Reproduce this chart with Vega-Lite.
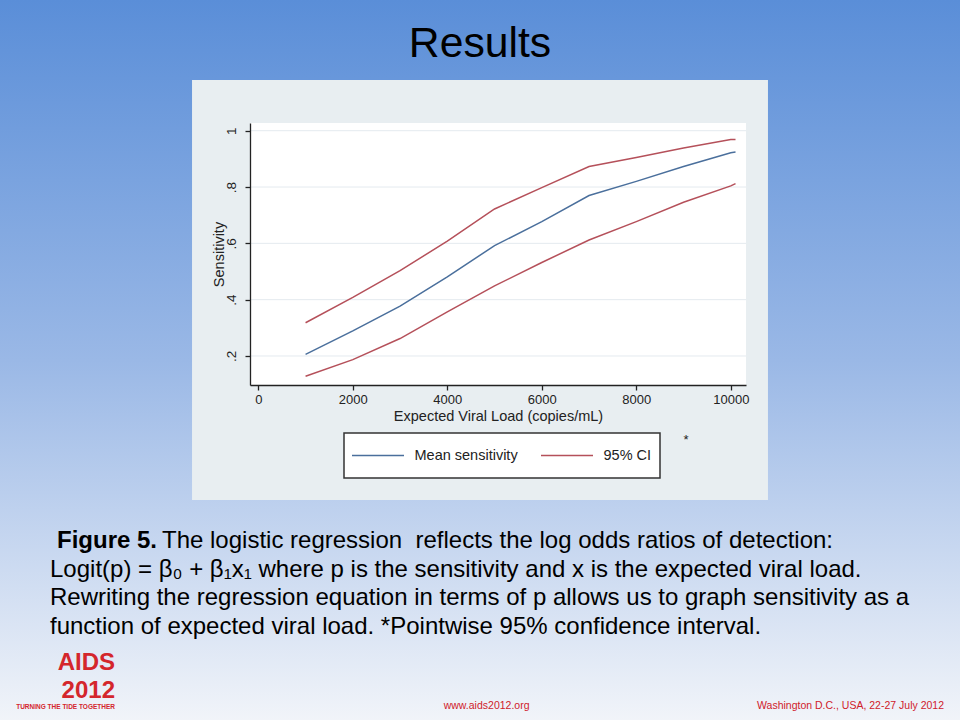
{
  "$schema": "https://vega.github.io/schema/vega-lite/v6.json",
  "width": 960,
  "height": 720,
  "autosize": {"type": "none"},
  "padding": 0,
  "background": "#9ab8e6",
  "config": {
    "font": "Liberation Sans",
    "view": {
      "stroke": null,
      "fill": {
        "gradient": "linear", "x1": 0, "y1": 0, "x2": 0, "y2": 1,
        "stops": [
          {"offset": 0, "color": "#5a8ed8"},
          {"offset": 0.5, "color": "#9ab8e6"},
          {"offset": 1, "color": "#f1f4f9"}
        ]
      }
    },
    "legend": {"strokeWidth": 1.5}
  },
  "title": {
    "text": "Results",
    "fontSize": 42.7,
    "fontWeight": "normal",
    "color": "#000000",
    "anchor": "middle",
    "frame": "group",
    "baseline": "alphabetic",
    "offset": -100
  },
  "resolve": {"scale": {"x": "independent", "y": "independent"}},
  "layer": [
    {
      "layer": [
        {
          "data": {"values": [{"part": "chart box"}]},
          "mark": {"type": "rect", "fill": "#e8eef1"},
          "encoding": {
            "x": {"datum": -1403, "type": "quantitative"},
            "x2": {"datum": 10787},
            "y": {"datum": 1.1801, "type": "quantitative"},
            "y2": {"datum": -0.3114}
          }
        },
        {
          "data": {"values": [{"part": "plot region"}]},
          "mark": {"type": "rect", "fill": "#ffffff"},
          "encoding": {
            "x": {"datum": -176, "type": "quantitative"},
            "x2": {"datum": 10322},
            "y": {"datum": 1.0274, "type": "quantitative"},
            "y2": {"datum": 0.097}
          }
        },
        {
          "data": {"values": [{"tick": 0.2}, {"tick": 0.4}, {"tick": 0.6}, {"tick": 0.8}, {"tick": 1.0}]},
          "mark": {"type": "rule", "stroke": "#e4eaef", "strokeWidth": 1},
          "encoding": {
            "y": {"field": "tick", "type": "quantitative"},
            "x": {"datum": -176, "type": "quantitative"},
            "x2": {"datum": 10322}
          }
        },
        {
          "data": {
            "values": [
              {"load": 1000, "sensitivity": 0.206, "series": "Mean sensitivity", "band": "mean"},
              {"load": 2000, "sensitivity": 0.289, "series": "Mean sensitivity", "band": "mean"},
              {"load": 3000, "sensitivity": 0.377, "series": "Mean sensitivity", "band": "mean"},
              {"load": 4000, "sensitivity": 0.481, "series": "Mean sensitivity", "band": "mean"},
              {"load": 5000, "sensitivity": 0.592, "series": "Mean sensitivity", "band": "mean"},
              {"load": 6000, "sensitivity": 0.677, "series": "Mean sensitivity", "band": "mean"},
              {"load": 7000, "sensitivity": 0.770, "series": "Mean sensitivity", "band": "mean"},
              {"load": 8000, "sensitivity": 0.820, "series": "Mean sensitivity", "band": "mean"},
              {"load": 9000, "sensitivity": 0.873, "series": "Mean sensitivity", "band": "mean"},
              {"load": 10000, "sensitivity": 0.922, "series": "Mean sensitivity", "band": "mean"},
              {"load": 10100, "sensitivity": 0.924, "series": "Mean sensitivity", "band": "mean"},
              {"load": 1000, "sensitivity": 0.318, "series": "95% CI", "band": "upper"},
              {"load": 2000, "sensitivity": 0.408, "series": "95% CI", "band": "upper"},
              {"load": 3000, "sensitivity": 0.503, "series": "95% CI", "band": "upper"},
              {"load": 4000, "sensitivity": 0.608, "series": "95% CI", "band": "upper"},
              {"load": 5000, "sensitivity": 0.722, "series": "95% CI", "band": "upper"},
              {"load": 6000, "sensitivity": 0.798, "series": "95% CI", "band": "upper"},
              {"load": 7000, "sensitivity": 0.873, "series": "95% CI", "band": "upper"},
              {"load": 8000, "sensitivity": 0.905, "series": "95% CI", "band": "upper"},
              {"load": 9000, "sensitivity": 0.939, "series": "95% CI", "band": "upper"},
              {"load": 10000, "sensitivity": 0.969, "series": "95% CI", "band": "upper"},
              {"load": 10100, "sensitivity": 0.969, "series": "95% CI", "band": "upper"},
              {"load": 1000, "sensitivity": 0.128, "series": "95% CI", "band": "lower"},
              {"load": 2000, "sensitivity": 0.187, "series": "95% CI", "band": "lower"},
              {"load": 3000, "sensitivity": 0.262, "series": "95% CI", "band": "lower"},
              {"load": 4000, "sensitivity": 0.357, "series": "95% CI", "band": "lower"},
              {"load": 5000, "sensitivity": 0.449, "series": "95% CI", "band": "lower"},
              {"load": 6000, "sensitivity": 0.532, "series": "95% CI", "band": "lower"},
              {"load": 7000, "sensitivity": 0.612, "series": "95% CI", "band": "lower"},
              {"load": 8000, "sensitivity": 0.677, "series": "95% CI", "band": "lower"},
              {"load": 9000, "sensitivity": 0.746, "series": "95% CI", "band": "lower"},
              {"load": 10000, "sensitivity": 0.804, "series": "95% CI", "band": "lower"},
              {"load": 10100, "sensitivity": 0.812, "series": "95% CI", "band": "lower"}
            ]
          },
          "mark": {"type": "line", "strokeWidth": 1.5},
          "encoding": {
            "x": {
              "field": "load",
              "type": "quantitative",
              "scale": {"domain": [-176, 10322], "range": [250, 746], "nice": false, "zero": false},
              "axis": {
                "orient": "bottom",
                "offset": -335,
                "zindex": 1,
                "grid": false,
                "values": [0, 2000, 4000, 6000, 8000, 10000],
                "format": "d",
                "tickSize": 5,
                "tickColor": "#222222",
                "tickWidth": 1.3,
                "domainColor": "#222222",
                "domainWidth": 1.3,
                "labelFontSize": 13,
                "labelColor": "#222222",
                "labelPadding": 3,
                "labelFlush": false,
                "labelOverlap": false,
                "title": "Expected Viral Load (copies/mL)",
                "titleFontSize": 14.5,
                "titleFontWeight": "normal",
                "titleColor": "#222222",
                "titleBaseline": "alphabetic",
                "titleY": 35
              }
            },
            "y": {
              "field": "sensitivity",
              "type": "quantitative",
              "scale": {"domain": [0.097, 1.0274], "range": [385, 123], "nice": false, "zero": false},
              "axis": {
                "orient": "left",
                "offset": -250,
                "zindex": 1,
                "grid": false,
                "values": [0.2, 0.4, 0.6, 0.8, 1],
                "labelExpr": "replace(format(datum.value, '.1~f'), '0.', '.')",
                "tickSize": 5,
                "tickColor": "#222222",
                "tickWidth": 1.3,
                "domainColor": "#222222",
                "domainWidth": 1.3,
                "labelFontSize": 13.5,
                "labelColor": "#222222",
                "labelAngle": 270,
                "labelAlign": "center",
                "labelBaseline": "alphabetic",
                "labelPadding": 10,
                "labelFlush": false,
                "labelOverlap": false,
                "title": "Sensitivity",
                "titleFontSize": 14.5,
                "titleFontWeight": "normal",
                "titleColor": "#222222",
                "titleAngle": 270,
                "titleAlign": "center",
                "titleBaseline": "alphabetic",
                "titleX": -27,
                "titleY": 254
              }
            },
            "color": {
              "field": "series",
              "type": "nominal",
              "scale": {"domain": ["Mean sensitivity", "95% CI"], "range": ["#4a6f9c", "#b5505a"]},
              "legend": {
                "orient": "none",
                "legendX": 344,
                "legendY": 433,
                "direction": "horizontal",
                "title": null,
                "symbolType": "M-4,0H4",
                "symbolSize": 169,
                "symbolOffset": 18.5,
                "symbolStrokeWidth": 1.5,
                "clipHeight": 29,
                "labelFontSize": 14.5,
                "labelColor": "#222222",
                "labelOffset": 29,
                "columnPadding": 23,
                "padding": 8,
                "fillColor": "#ffffff",
                "strokeColor": "#333333"
              }
            },
            "detail": {"field": "band", "type": "nominal"}
          }
        },
        {
          "data": {"values": [{"note": "*"}]},
          "mark": {"type": "text", "fontSize": 13, "color": "#222222"},
          "encoding": {
            "x": {"datum": 9052, "type": "quantitative"},
            "y": {"datum": -0.098, "type": "quantitative"},
            "text": {"field": "note"}
          }
        }
      ]
    },
    {
      "encoding": {
        "x": {"field": "seg", "type": "nominal", "scale": {"type": "point", "domain": ["a", "b"], "range": [50, 162], "padding": 0}, "axis": null},
        "y": {"field": "line", "type": "ordinal", "scale": {"type": "point", "domain": [1, 2, 3, 4], "range": [548, 634], "padding": 0}, "axis": null},
        "text": {"field": "text"}
      },
      "layer": [
        {
          "data": {"values": [{"line": 1, "seg": "a", "text": "Figure 5."}]},
          "mark": {"type": "text", "fontSize": 24, "fontWeight": "bold", "align": "left", "baseline": "alphabetic", "dx": 7, "color": "#000000"}
        },
        {
          "data": {
            "values": [
              {"line": 1, "seg": "b", "text": "The logistic regression\u00a0\u00a0reflects the log odds ratios of detection:"},
              {"line": 2, "seg": "a", "text": "Logit(p) = β₀ + β₁x₁ where p is the sensitivity and x is the expected viral load."},
              {"line": 3, "seg": "a", "text": "Rewriting the regression equation in terms of p allows us to graph sensitivity as a"},
              {"line": 4, "seg": "a", "text": "function of expected viral load. *Pointwise 95% confidence interval."}
            ]
          },
          "mark": {"type": "text", "fontSize": 24, "fontWeight": "normal", "align": "left", "baseline": "alphabetic", "color": "#000000"}
        }
      ]
    },
    {
      "encoding": {
        "x": {"field": "item", "type": "nominal", "scale": {"type": "point", "domain": ["logo", "url", "place"], "range": [115, 944], "padding": 0}, "axis": null},
        "y": {"field": "row", "type": "nominal", "scale": {"type": "point", "domain": ["logo", "foot"], "range": [670, 709], "padding": 0}, "axis": null},
        "text": {"field": "text"}
      },
      "layer": [
        {
          "data": {"values": [{"item": "logo", "row": "logo", "text": "AIDS\n2012"}]},
          "mark": {"type": "text", "font": "Liberation Sans Narrow, Liberation Sans", "fontSize": 24, "fontWeight": "bold", "lineBreak": "\n", "lineHeight": 28, "align": "right", "baseline": "alphabetic", "color": "#d4262c"}
        },
        {
          "data": {"values": [{"item": "logo", "row": "foot", "text": "TURNING THE TIDE TOGETHER"}]},
          "mark": {"type": "text", "font": "Liberation Sans Narrow, Liberation Sans", "fontSize": 6.5, "fontWeight": "bold", "align": "right", "baseline": "alphabetic", "color": "#d4262c"}
        },
        {
          "data": {"values": [{"item": "url", "row": "foot", "text": "www.aids2012.org"}, {"item": "place", "row": "foot", "text": "Washington D.C., USA, 22-27 July 2012"}]},
          "mark": {"type": "text", "font": "Liberation Sans Narrow, Liberation Sans", "fontSize": 10.5, "align": "right", "baseline": "alphabetic", "color": "#d0202a"}
        }
      ]
    }
  ]
}
